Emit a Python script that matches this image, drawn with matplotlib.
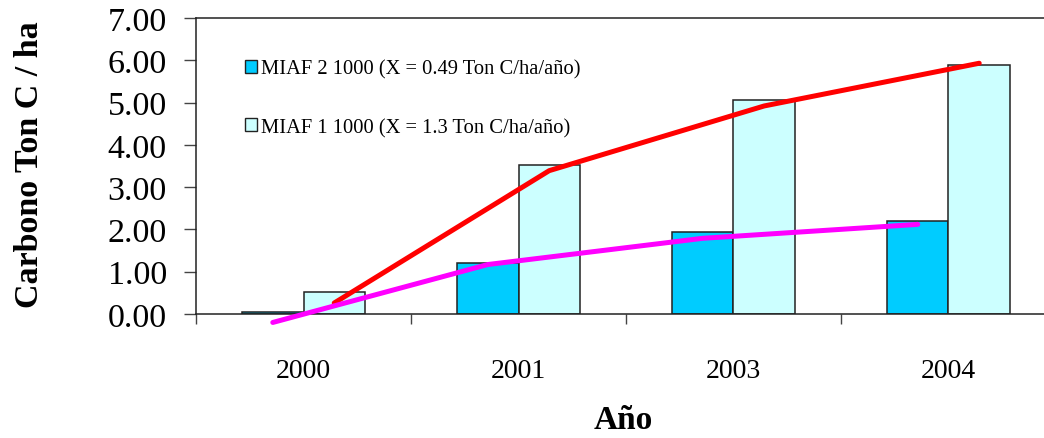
import matplotlib
matplotlib.use("Agg")
import matplotlib.pyplot as plt
import numpy as np
from matplotlib.patches import Patch

plt.rcParams['font.family'] = ['Liberation Serif', 'DejaVu Serif']

years = ["2000", "2001", "2003", "2004"]
miaf2 = [0.04, 1.21, 1.94, 2.20]
miaf1 = [0.53, 3.53, 5.05, 5.89]
trend_miaf1 = [0.26, 3.39, 4.92, 5.93]
trend_miaf2 = [-0.20, 1.17, 1.79, 2.12]
label_miaf2 = "MIAF 2 1000 (X = 0.49 Ton C/ha/año)"
label_miaf1 = "MIAF 1 1000 (X = 1.3 Ton C/ha/año)"
yticks = [0, 1, 2, 3, 4, 5, 6, 7]

W, H = 1044, 439
fig = plt.figure(figsize=(W / 100, H / 100), dpi=100)
ax = fig.add_axes([196 / W, (H - 315) / H, 860 / W, 296 / H])

x = np.arange(len(years))
bw = 1 / 3.5
c2, c1 = "#00CCFF", "#CCFFFF"
ax.bar(x - bw / 2, miaf2, bw, color=c2, edgecolor="#222222", linewidth=1.1, zorder=2)
ax.bar(x + bw / 2, miaf1, bw, color=c1, edgecolor="#222222", linewidth=1.1, zorder=2)
ax.plot(x + bw / 2, trend_miaf1, color="#FF0000", lw=3.6, solid_capstyle="round",
        solid_joinstyle="round", zorder=3, clip_on=False)
ax.plot(x - bw / 2, trend_miaf2, color="#FF00FF", lw=3.6, solid_capstyle="round",
        solid_joinstyle="round", zorder=3, clip_on=False)

ax.set_xlim(-0.5, len(years) - 0.5)
ax.set_ylim(0, 7)
ax.set_yticks(yticks)
ax.set_yticklabels([f"{v:.2f}" for v in yticks], fontsize=24.5)
ax.tick_params(axis="y", direction="out", length=9, width=1, pad=12, color="#444444")

ax.set_xticks(np.arange(len(years) + 1) - 0.5)
ax.set_xticklabels([])
ax.set_xticks(x, minor=True)
ax.set_xticklabels(years, minor=True, fontsize=20)
ax.tick_params(axis="x", which="major", direction="out", length=7, width=1, color="#444444")
ax.tick_params(axis="x", which="minor", length=0, pad=32)

for s in ["left", "bottom", "top"]:
    ax.spines[s].set_linewidth(1.1)
    ax.spines[s].set_color("#222222")
ax.spines["right"].set_visible(False)

handles = [Patch(facecolor=c2, edgecolor="#222222", linewidth=1.0),
           Patch(facecolor=c1, edgecolor="#222222", linewidth=1.0)]
fig.legend(handles, [label_miaf2, label_miaf1], loc="upper left",
           bbox_to_anchor=(226 / W, (H - 42) / H), frameon=False, fontsize=14.8,
           handlelength=0.6, handleheight=0.6, handletextpad=0.2, labelspacing=1.9)

fig.text(30 / W, (H - 165) / H, "Carbono Ton C / ha", rotation=90, ha="center",
         va="center", fontsize=24.5, fontweight="bold")
fig.text(623 / W, (H - 421) / H, "Año", ha="center", va="center", fontsize=24,
         fontweight="bold")

fig.savefig("out.png", dpi=100)
